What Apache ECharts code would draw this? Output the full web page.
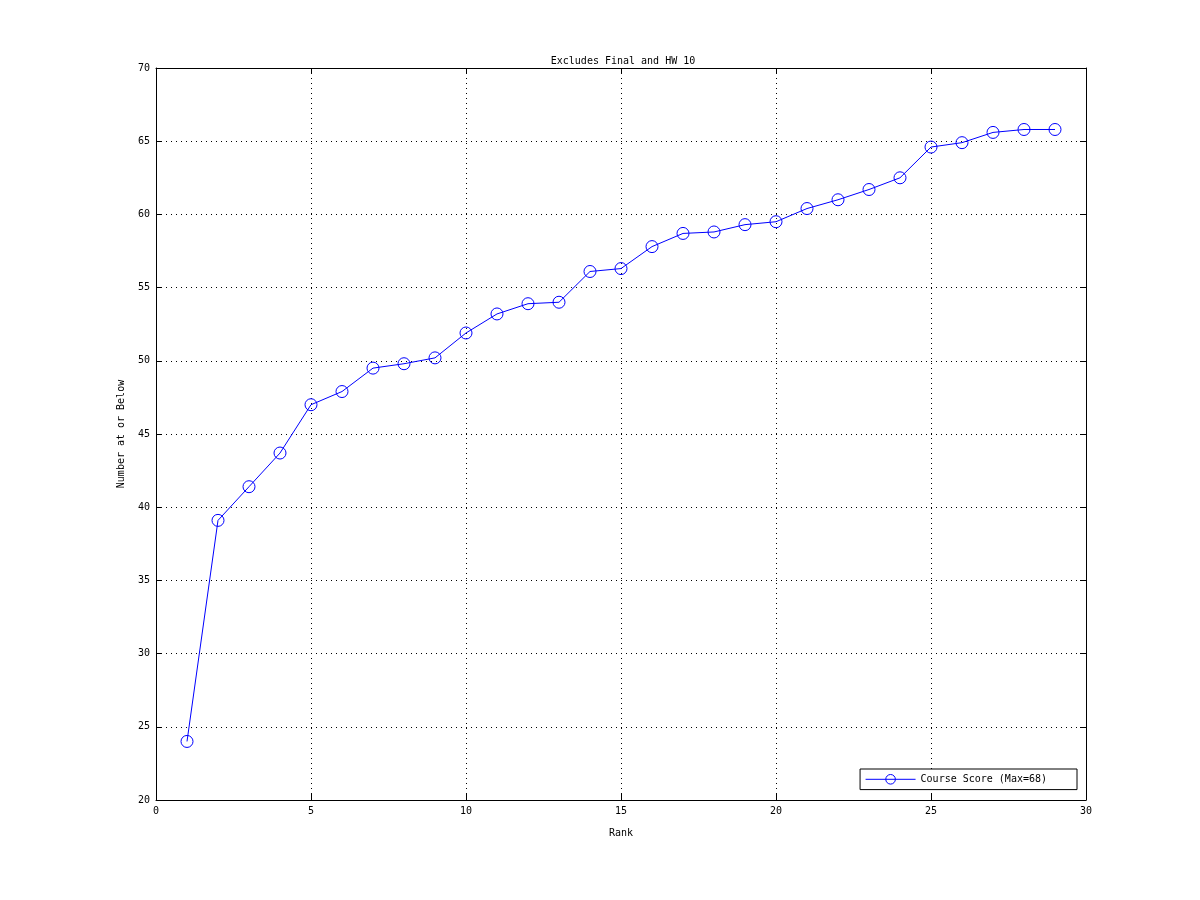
<!DOCTYPE html>
<html><head><meta charset="utf-8">
<script src="https://cdn.jsdelivr.net/npm/echarts@6/dist/echarts.min.js"></script>
<style>html,body{margin:0;padding:0;background:#fff}#c{width:1200px;height:900px}</style>
</head><body><div id="c"></div>
<script>
const ranks = [1,2,3,4,5,6,7,8,9,10,11,12,13,14,15,16,17,18,19,20,21,22,23,24,25,26,27,28,29];
const scores = [24.0,39.1,41.4,43.7,47.0,47.9,49.5,49.8,50.2,51.9,53.2,53.9,54.0,56.1,56.3,57.8,58.7,58.8,59.3,59.5,60.4,61.0,61.7,62.5,64.6,64.9,65.6,65.8,65.8];
const seriesName = 'Course Score (Max=68)';
const titleText = 'Excludes Final and HW 10';
const xName = 'Rank';
const yName = 'Number at or Below';

const font = 'DejaVu Sans Mono';
const chart = echarts.init(document.getElementById('c'), null, {renderer:'canvas'});
const axisCommon = {
  axisLine:{show:true,onZero:false,lineStyle:{color:'#000',width:1}},
  axisTick:{show:true,inside:true,length:6,lineStyle:{color:'#000'}},
  axisLabel:{color:'#000',fontFamily:font,fontSize:10},
};
chart.setOption({
  animation:false,
  backgroundColor:'#fff',
  title:{text:titleText,left:618,top:51,textAlign:'center',textStyle:{fontFamily:font,fontSize:10,fontWeight:'normal',color:'#000'}},
  grid:{left:156,right:114,top:68,bottom:100,containLabel:false},
  legend:{
    data:[seriesName],right:123,top:769,orient:'horizontal',
    borderColor:'#000',borderWidth:1,backgroundColor:'#fff',borderRadius:0,
    padding:[5,30,5,5],itemWidth:50,itemHeight:12,itemGap:5,
    lineStyle:{width:1,color:'#0000ff'},
    itemStyle:{color:'transparent',borderColor:'#0000ff',borderWidth:1},
    textStyle:{fontFamily:font,fontSize:10,color:'#000'}
  },
  xAxis:[
    Object.assign({type:'value',min:0,max:30,interval:5,position:'bottom',
      name:xName,nameLocation:'middle',nameGap:28,nameTextStyle:{fontFamily:font,fontSize:10,color:'#000'},
      splitLine:{show:true,lineStyle:{color:'#000',type:[1,4],width:1}}},axisCommon,
      {axisLabel:{color:'#000',fontFamily:font,fontSize:10,margin:6}}),
    Object.assign({type:'value',min:0,max:30,interval:5,position:'top',splitLine:{show:false}},axisCommon,{axisLabel:{show:false}})
  ],
  yAxis:[
    Object.assign({type:'value',min:20,max:70,interval:5,position:'left',
      name:yName,nameLocation:'middle',nameGap:30,nameRotate:90,nameTextStyle:{fontFamily:font,fontSize:10,color:'#000'},
      splitLine:{show:true,lineStyle:{color:'#000',type:[1,4],width:1}}},axisCommon,
      {axisLabel:{color:'#000',fontFamily:font,fontSize:10,margin:6}}),
    Object.assign({type:'value',min:20,max:70,interval:5,position:'right',splitLine:{show:false}},axisCommon,{axisLabel:{show:false}})
  ],
  series:[{
    name:seriesName,type:'line',
    data:ranks.map((r,i)=>[r,scores[i]]),
    symbol:'circle',symbolSize:12,showSymbol:true,
    itemStyle:{color:'transparent',borderColor:'#0000ff',borderWidth:1},
    lineStyle:{color:'#0000ff',width:1},
    emphasis:{disabled:true},
    z:3
  }]
});
</script></body></html>
